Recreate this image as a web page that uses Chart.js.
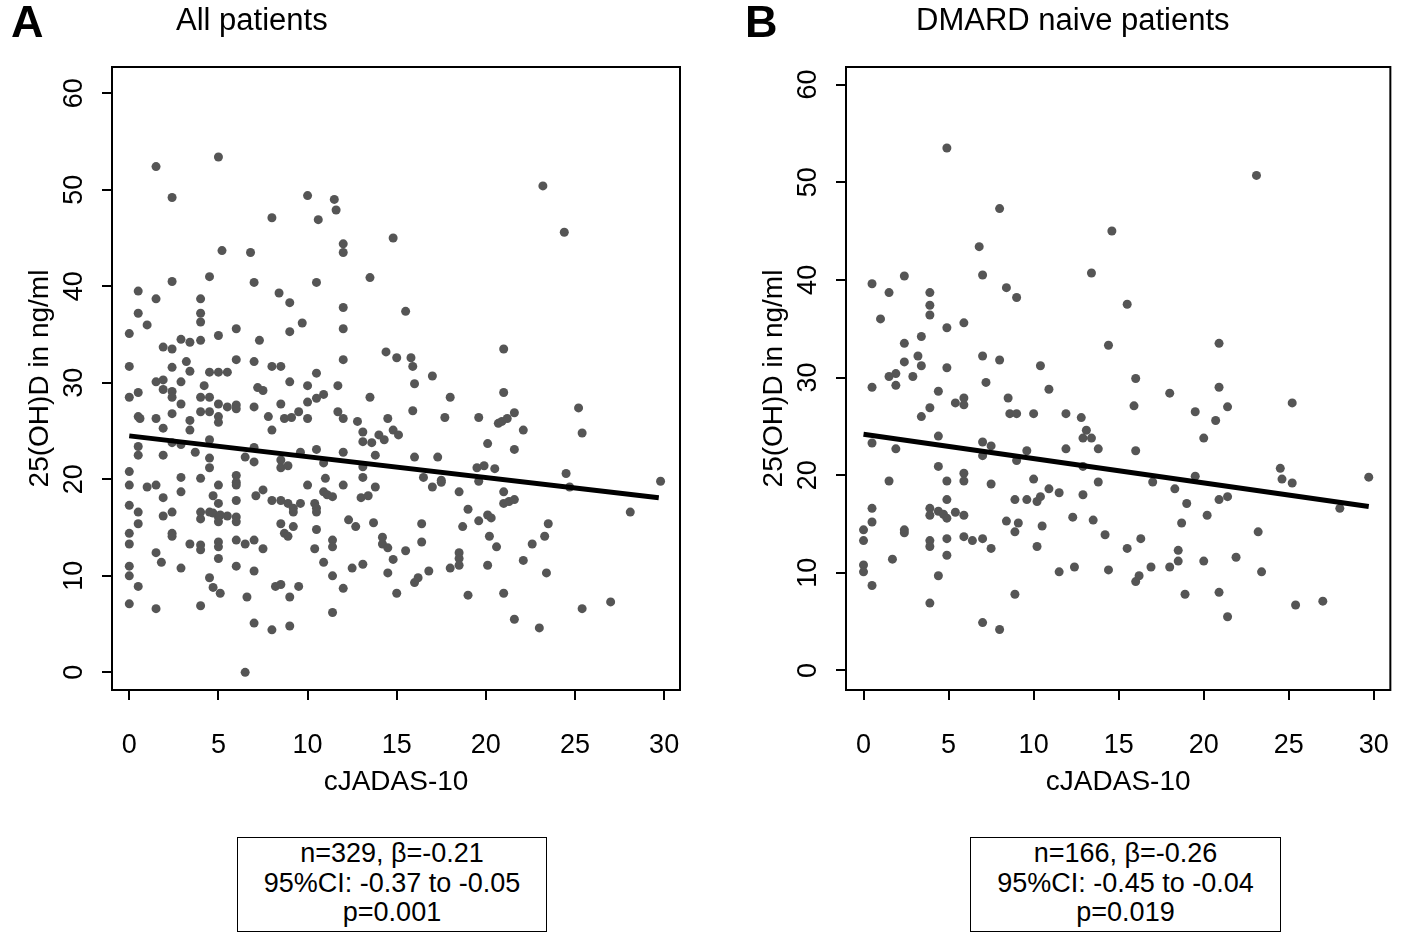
<!DOCTYPE html>
<html>
<head>
<meta charset="utf-8">
<script src="https://cdn.jsdelivr.net/npm/chart.js@4.4.1/dist/chart.umd.min.js"></script>
<style>
  body { margin: 0; background: #fff; font-family: 'Liberation Sans', Arial, sans-serif; }
  #page { position: relative; width: 1418px; height: 937px; overflow: hidden; }
  canvas { position: absolute; top: 0; }
  .tag { position: absolute; font-weight: bold; font-size: 45px; line-height: 1; }
  .main { position: absolute; font-size: 31px; line-height: 1; white-space: nowrap; }
  .stats { position: absolute; top: 837px; height: 95px; border: 1.5px solid #000; box-sizing: border-box;
           text-align: center; font-size: 27px; line-height: 29.5px; padding-top: 1px; }
</style>
</head>
<body>
<div id="page">
  <canvas id="chartA" width="709" height="830" style="left:0"></canvas>
  <canvas id="chartB" width="709" height="830" style="left:709px"></canvas>
  <div class="tag" style="left:11px;top:-1px">A</div>
  <div class="main" style="left:176px;top:4px">All patients</div>
  <div class="tag" style="left:745px;top:-1px">B</div>
  <div class="main" style="left:916px;top:4px">DMARD naive patients</div>
  <div class="stats" style="left:237px;width:310px">n=329, β=-0.21<br>95%CI: -0.37 to -0.05<br>p=0.001</div>
  <div class="stats" style="left:970px;width:311px">n=166, β=-0.26<br>95%CI: -0.45 to -0.04<br>p=0.019</div>
</div>
<script>
const xTicks = [0, 5, 10, 15, 20, 25, 30];
const yTicks = [0, 10, 20, 30, 40, 50, 60];

// cJADAS-10, 25(OH)D pairs
const allPoints = [
  [1.5,52.4],[5.0,53.4],[2.4,49.2],[10.0,49.4],[11.5,49.0],[11.6,47.9],[8.0,47.1],[10.6,46.9],
  [14.8,45.0],[12.0,44.4],[12.0,43.5],[5.2,43.7],[6.8,43.5],[4.5,41.0],[13.5,40.9],[23.2,50.4],[24.4,45.6],
  [2.4,40.5],[7.0,40.4],[10.5,40.4],[0.5,39.5],[1.5,38.7],[4.0,38.7],[8.4,39.3],[9.0,38.3],[12.0,37.8],
  [0.5,37.2],[4.0,37.2],[4.0,36.3],[1.0,36.0],[9.7,36.2],[0,35.1],[6.0,35.6],[12.0,35.6],[9.0,35.3],
  [5.0,34.9],[7.3,34.4],[2.9,34.5],[3.4,34.2],[4.0,34.4],[1.9,33.7],[2.4,33.5],[14.4,33.2],[15.0,32.6],
  [12.0,32.4],[6.0,32.4],[7.0,32.2],[3.2,32.2],[0,31.7],[8.0,31.7],[8.5,31.7],[2.4,31.6],[3.4,31.2],
  [4.5,31.1],[5.0,31.1],[5.5,31.1],[10.5,31.0],[9.0,30.1],[1.5,30.1],[1.9,30.3],[1.9,29.3],[2.9,30.1],
  [4.2,29.7],[10.0,29.7],[11.7,29.7],[7.2,29.5],[7.5,29.2],[2.4,29.1],[2.4,28.5],[0,28.5],[0.5,29.0],
  [10.9,28.8],[10.5,28.4],[10.0,28.0],[4.0,28.5],[4.5,28.5],[13.5,28.5],[2.9,27.8],[5.0,27.8],[5.5,27.5],
  [6.0,27.7],[6.0,27.3],[7.0,27.5],[8.5,27.8],[0.5,26.5],[0.6,26.3],[1.5,26.3],[2.4,26.8],[4.0,27.0],
  [4.5,27.0],[5.0,26.5],[5.0,25.9],[3.4,26.1],[3.4,25.1],[1.9,25.3],[7.8,26.5],[8.7,26.3],[9.1,26.4],
  [9.5,27.0],[10.0,26.3],[11.7,27.0],[12.0,26.3],[12.8,26.0],[8.0,25.1],[14.5,26.3],[14.8,25.1],[15.1,24.6],
  [13.1,24.9],[13.1,23.9],[14.0,24.6],[14.3,24.1],[13.6,23.8],[0.5,23.4],[0.5,22.5],[1.9,22.5],[2.4,23.8],
  [2.9,23.6],[3.7,22.8],[4.5,24.1],[4.5,22.2],[4.5,21.2],[6.5,22.3],[7.0,23.3],[7.0,21.8],[8.5,22.0],
  [8.5,21.2],[8.9,21.4],[9.6,22.8],[10.5,23.1],[10.9,21.7],[12.0,22.8],[13.1,21.3],[13.1,20.2],[13.8,22.5],
  [0,20.8],[2.9,20.2],[4.0,20.1],[6.0,20.4],[6.0,19.7],[11.0,20.1],
  [15.5,37.4],[15.8,32.6],[15.9,31.7],[17.0,30.7],[21.0,33.5],[16.0,29.9],[18.0,28.5],[21.0,29.0],
  [15.9,27.1],[17.7,26.4],[19.6,26.4],[21.6,26.9],[25.2,27.4],[20.7,25.8],[20.9,26.0],[21.2,26.3],
  [22.1,25.1],[25.4,24.8],[20.1,23.7],[21.6,23.1],[16.0,22.3],[17.3,22.3],[19.5,21.2],[19.9,21.4],
  [20.5,21.1],[24.5,20.6],[16.5,20.2],[17.5,19.9],[29.8,19.8],[19.6,19.8],[24.7,19.2],
  [0,19.4],[1.0,19.2],[1.5,19.4],[5.0,19.4],[6.0,19.4],[10.0,19.4],[12.0,19.4],[13.8,19.2],[1.9,18.1],
  [2.9,18.7],[4.7,18.3],[5.0,17.5],[6.0,17.8],[7.1,18.3],[7.5,18.9],[8.0,17.8],[8.5,17.8],[8.9,17.5],
  [9.2,17.0],[9.2,16.6],[9.6,17.5],[10.4,17.5],[10.5,17.0],[10.5,16.6],[10.9,18.7],[11.1,18.4],[11.4,18.2],
  [13.0,18.1],[13.4,18.3],[0,17.3],[0.5,16.6],[1.9,16.2],[2.4,16.6],[4.0,16.6],[4.0,15.9],[4.5,16.6],
  [5.0,16.1],[5.0,15.6],[5.5,16.2],[6.0,16.1],[6.0,15.6],[4.7,16.5],[5.1,16.3],[0.5,15.4],[8.5,15.4],
  [9.2,15.1],[8.7,14.4],[8.9,14.1],[0,14.4],[2.4,14.4],[2.4,14.1],[10.5,14.8],[12.3,15.8],[12.7,15.1],
  [13.7,15.5],[14.2,14.0],[14.2,13.3],[14.5,12.9],[0,13.3],[3.4,13.3],[4.0,13.2],[4.0,12.7],[5.0,13.5],
  [5.0,13.0],[6.0,13.7],[6.5,13.3],[7.0,13.7],[7.5,12.8],[10.4,12.8],[11.4,13.7],[11.4,13.0],[1.5,12.4],
  [1.8,11.4],[5.0,11.8],[6.0,11.0],[10.9,11.4],[13.1,11.2],[12.5,10.8],[14.8,11.7],[0,11.0],[0,10.0],
  [2.9,10.8],[7.0,10.5],[14.5,10.3],[11.4,10.0],[0.5,8.9],[4.5,9.8],[4.7,8.8],[5.1,8.2],[8.2,8.9],
  [8.5,9.1],[9.5,8.9],[12.0,8.7],[15.0,8.2],[6.6,7.8],[9.0,7.8],[0,7.1],[1.5,6.6],[4.0,6.9],[11.4,6.2],
  [7.0,5.1],[8.0,4.4],[9.0,4.8],[6.5,0.0],
  [17.0,19.2],[17.5,19.7],[18.5,18.7],[21.0,18.7],[21.0,17.5],[21.3,17.7],[21.6,17.9],[28.1,16.6],
  [19.0,16.9],[19.6,15.7],[20.1,16.3],[20.3,16.0],[16.4,15.4],[18.7,15.1],[20.2,14.1],[23.5,15.4],
  [23.3,14.1],[16.4,13.5],[20.6,13.0],[22.6,13.3],[15.5,12.6],[18.5,12.4],[18.5,11.8],[18.5,11.1],
  [18.0,10.8],[16.8,10.5],[20.1,11.1],[22.1,11.6],[23.4,10.3],[16.0,9.3],[16.2,9.8],[19.0,8.0],
  [21.0,8.2],[25.4,6.6],[27.0,7.3],[21.6,5.5],[23.0,4.6]
];

// cJADAS-10, 25(OH)D pairs
const naivePoints = [
  [4.9,53.5],[8.0,47.3],[14.6,45.0],[6.8,43.4],[2.4,40.4],[7.0,40.5],[13.4,40.7],[23.1,50.7],
  [0.5,39.6],[1.5,38.7],[3.9,38.7],[8.4,39.2],[9.0,38.2],[3.9,37.4],[3.9,36.4],[1.0,36.0],[4.9,35.1],
  [5.9,35.6],[3.4,34.2],[2.4,33.5],[14.4,33.3],[3.2,32.2],[7.0,32.2],[8.0,31.8],[2.4,31.6],[3.4,31.2],
  [4.9,31.0],[10.4,31.2],[1.5,30.1],[1.9,30.4],[1.9,29.2],[2.9,30.1],[7.2,29.5],[0.5,29.0],[4.4,28.6],
  [10.9,28.8],[5.4,27.4],[5.9,27.9],[5.9,27.2],[8.5,27.9],[3.9,26.9],[3.4,26.0],[8.6,26.3],[9.0,26.3],
  [10.0,26.3],[11.9,26.3],[12.8,25.9],[13.1,24.6],[12.9,23.8],[13.4,23.8],[13.8,22.7],[4.4,24.0],
  [0.5,23.3],[1.9,22.7],[7.0,23.4],[7.5,23.0],[7.0,22.0],[9.6,22.5],[9.0,21.5],[11.9,22.7],[12.9,20.9],
  [4.4,20.9],[5.9,20.2],[5.9,19.4],[1.5,19.4],[4.9,19.4],[10.0,19.6],[13.8,19.3],[7.5,19.1],
  [15.5,37.5],[20.9,33.5],[16.0,29.9],[18.0,28.4],[20.9,29.0],[15.9,27.1],[19.5,26.5],[21.4,27.0],
  [25.2,27.4],[20.7,25.6],[20.0,23.8],[16.0,22.5],[24.5,20.7],[24.6,19.6],[25.2,19.2],[29.7,19.8],
  [19.5,19.9],[17.0,19.3],
  [10.9,18.6],[11.5,18.2],[12.9,18.0],[0.5,16.6],[0.5,15.2],[0,14.4],[0,13.3],[2.4,14.4],[2.4,14.1],
  [3.9,16.6],[3.9,15.9],[4.4,16.3],[4.7,16.0],[4.9,15.6],[4.9,17.5],[5.4,16.2],[5.9,15.9],[8.9,17.5],
  [9.6,17.5],[10.2,17.3],[10.4,17.8],[8.4,15.3],[9.1,15.1],[8.9,14.2],[10.5,14.8],[12.3,15.7],[13.5,15.4],
  [14.2,13.9],[3.9,13.3],[3.9,12.7],[4.9,13.5],[5.9,13.7],[6.4,13.3],[7.0,13.5],[7.5,12.5],[10.2,12.7],
  [1.7,11.4],[4.9,11.8],[0,10.8],[0,10.1],[0.5,8.7],[4.4,9.7],[11.5,10.1],[12.4,10.6],[14.4,10.3],
  [3.9,6.9],[8.9,7.8],[7.0,4.9],[8.0,4.2],
  [18.3,18.6],[19.0,17.1],[20.9,17.5],[21.4,17.8],[28.0,16.6],[20.2,15.9],[18.7,15.1],[23.2,14.2],
  [16.3,13.5],[15.5,12.5],[18.5,12.3],[21.9,11.6],[16.9,10.6],[18.0,10.6],[18.5,11.2],[20.0,11.2],
  [23.4,10.1],[16.0,9.1],[16.2,9.7],[18.9,7.8],[20.9,8.0],[21.4,5.5],[25.4,6.7],[27.0,7.1]
];

// regression lines, ends at these cJADAS-10 values
const fitX = [0, 29.7];
const fitAllY = [24.5, 18.1];
const fitNaiveY = [24.2, 16.8];

const family = "'Liberation Sans', Arial, sans-serif";
Chart.defaults.font.family = family;
Chart.defaults.color = '#000';

const boxPlugin = {
  id: 'box',
  afterDraw(chart) {
    const a = chart.chartArea;
    const ctx = chart.ctx;
    ctx.save();
    ctx.strokeStyle = '#000';
    ctx.lineWidth = 2;
    ctx.strokeRect(a.left, a.top, a.right - a.left, a.bottom - a.top);
    ctx.restore();
  }
};

function makeChart(id, points, fitY, lim) {
  return new Chart(document.getElementById(id), {
    type: 'scatter',
    data: {
      datasets: [
        {
          data: fitX.map((x, i) => ({ x: x, y: fitY[i] })),
          showLine: true, borderColor: '#000', borderWidth: 5, pointRadius: 0, order: 0
        },
        {
          data: points.map(p => ({ x: p[0], y: p[1] })),
          pointRadius: 4.5, backgroundColor: '#555', borderWidth: 0, order: 1
        }
      ]
    },
    options: {
      responsive: false,
      animation: false,
      devicePixelRatio: 1,
      layout: { padding: { left: lim.padLeft, top: 67, right: lim.padRight, bottom: 20 } },
      plugins: { legend: { display: false }, tooltip: { enabled: false } },
      scales: {
        x: {
          type: 'linear', min: lim.xMin, max: lim.xMax,
          afterBuildTicks: a => { a.ticks = xTicks.map(v => ({ value: v })); },
          afterFit: a => { a.height = 120; },
          grid: { drawOnChartArea: false, drawTicks: true, tickLength: 10, color: '#000', lineWidth: 2 },
          border: { display: false },
          ticks: { font: { size: 27 }, padding: 29, maxRotation: 0, autoSkip: false },
          title: { display: true, text: 'cJADAS-10', font: { size: 28 }, padding: { top: 0, bottom: 11 } }
        },
        y: {
          type: 'linear', min: lim.yMin, max: lim.yMax,
          afterBuildTicks: a => { a.ticks = yTicks.map(v => ({ value: v })); },
          afterFit: a => { a.width = 112; },
          grid: { drawOnChartArea: false, drawTicks: true, tickLength: 10, color: '#000', lineWidth: 2 },
          border: { display: false },
          ticks: { font: { size: 27 }, padding: 12, minRotation: 90, maxRotation: 90, crossAlign: 'center', autoSkip: false },
          title: { display: true, text: '25(OH)D in ng/ml', font: { size: 28 }, padding: { top: 23, bottom: 0 } }
        }
      }
    },
    plugins: [boxPlugin]
  });
}

makeChart('chartA', allPoints, fitAllY, { xMin: -0.97, xMax: 30.89, yMin: -1.83, yMax: 62.72, padLeft: 0, padRight: 29 });
makeChart('chartB', naivePoints, fitNaiveY, { xMin: -1.03, xMax: 30.97, yMin: -2.0, yMax: 61.8, padLeft: 25, padRight: 3 });
</script>
</body>
</html>
